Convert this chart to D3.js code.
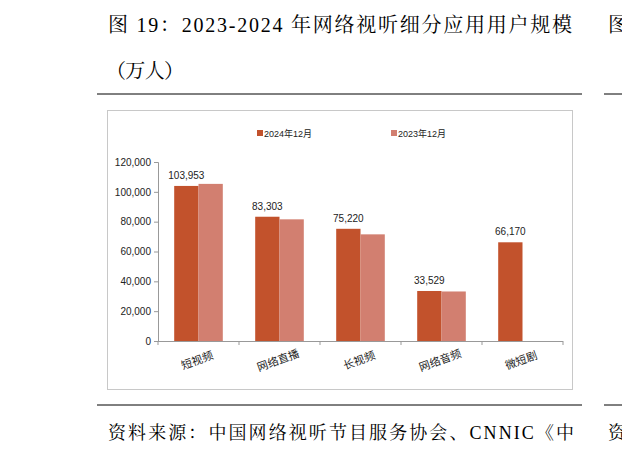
<!DOCTYPE html>
<html><head><meta charset="utf-8">
<script src="https://cdn.jsdelivr.net/npm/d3@7"></script>
<style>body{margin:0;background:#fff}</style>
</head><body>
<svg id="c" width="622" height="455"></svg>
<script>
var categories = ["短视频", "网络直播", "长视频", "网络音频", "微短剧"];
var series = ["2024年12月", "2023年12月"];
var v2024 = [103953, 83303, 75220, 33529, 66170];
var v2023 = [105330, 81566, 71500, 33200, null];
var ticks = [0, 20000, 40000, 60000, 80000, 100000, 120000];
var colors = ["#C2522C", "#D27F70"];

var svg = d3.select("#c");
var serif = "'Liberation Serif','Noto Serif CJK SC','Noto Sans CJK SC',serif";
var cjk = "Arial,'Liberation Sans','Noto Sans CJK SC',sans-serif";

svg.append("text").attr("x", 108).attr("y", 32).attr("font-family", serif).attr("font-size", 20)
  .attr("textLength", 464).attr("lengthAdjust", "spacing")
  .text("图 19：2023-2024 年网络视听细分应用用户规模");
svg.append("text").attr("x", 106).attr("y", 78).attr("font-family", serif).attr("font-size", 20)
  .attr("textLength", 78).attr("lengthAdjust", "spacing").text("（万人）");
svg.append("text").attr("x", 608).attr("y", 32).attr("font-family", serif).attr("font-size", 20).text("图");
svg.append("text").attr("x", 108).attr("y", 439).attr("font-family", serif).attr("font-size", 18)
  .attr("textLength", 466).attr("lengthAdjust", "spacing")
  .text("资料来源：中国网络视听节目服务协会、CNNIC《中");
svg.append("text").attr("x", 608).attr("y", 439).attr("font-family", serif).attr("font-size", 18).text("资");
[[97, 582, 94], [604, 622, 94], [97, 582, 405], [604, 622, 405]].forEach(function(l) {
  svg.append("line").attr("x1", l[0]).attr("x2", l[1]).attr("y1", l[2]).attr("y2", l[2])
    .attr("stroke", "#000").attr("stroke-width", 1);
});

// chart frame
svg.append("rect").attr("x", 107.5).attr("y", 110.5).attr("width", 465).attr("height", 279)
  .attr("fill", "#fff").attr("stroke", "#c8c8c8");

var x = d3.scaleBand().domain(categories).range([158, 563]).paddingInner(0.4).paddingOuter(0.2);
var y = d3.scaleLinear().domain([0, 120000]).range([341, 162]);

var g = svg.append("g");
g.append("g").attr("transform", "translate(158,0)")
  .call(d3.axisLeft(y).tickValues(ticks).tickSize(4).tickFormat(d3.format(",")))
  .call(function(a) {
    a.select(".domain").attr("stroke", "#999");
    a.selectAll(".tick line").attr("stroke", "#999");
    a.selectAll("text").attr("font-family", cjk).attr("font-size", 10).attr("fill", "#222");
  });
g.append("line").attr("x1", 158).attr("x2", 563).attr("y1", 341.5).attr("y2", 341.5).attr("stroke", "#999");
d3.range(6).forEach(function(i) {
  var xx = 158 + i * (563 - 158) / 5;
  g.append("line").attr("x1", xx).attr("x2", xx).attr("y1", 341).attr("y2", 345).attr("stroke", "#999");
});

var bw = x.bandwidth() / 2;
categories.forEach(function(c, i) {
  [v2024[i], v2023[i]].forEach(function(v, k) {
    if (v == null) return;
    g.append("rect").attr("x", x(c) + k * bw).attr("y", y(v)).attr("width", bw)
      .attr("height", y(0) - y(v)).attr("fill", colors[k]);
  });
  g.append("text").attr("x", x(c) + bw / 2).attr("y", y(v2024[i]) - 7).attr("text-anchor", "middle")
    .attr("font-family", cjk).attr("font-size", 10).attr("fill", "#222").text(d3.format(",")(v2024[i]));
  var cx = x(c) + bw;
  g.append("text").attr("transform", "translate(" + cx + ",364) rotate(-20)").attr("text-anchor", "middle")
    .attr("font-family", cjk).attr("font-size", 11).attr("fill", "#222").text(c);
});

var lx = [257, 391];
series.forEach(function(s, k) {
  svg.append("rect").attr("x", lx[k]).attr("y", 130).attr("width", 6).attr("height", 6).attr("fill", colors[k]);
  svg.append("text").attr("x", lx[k] + 7).attr("y", 136.5).attr("font-family", cjk).attr("font-size", 9)
    .attr("fill", "#222").text(s);
});
</script>
</body></html>
